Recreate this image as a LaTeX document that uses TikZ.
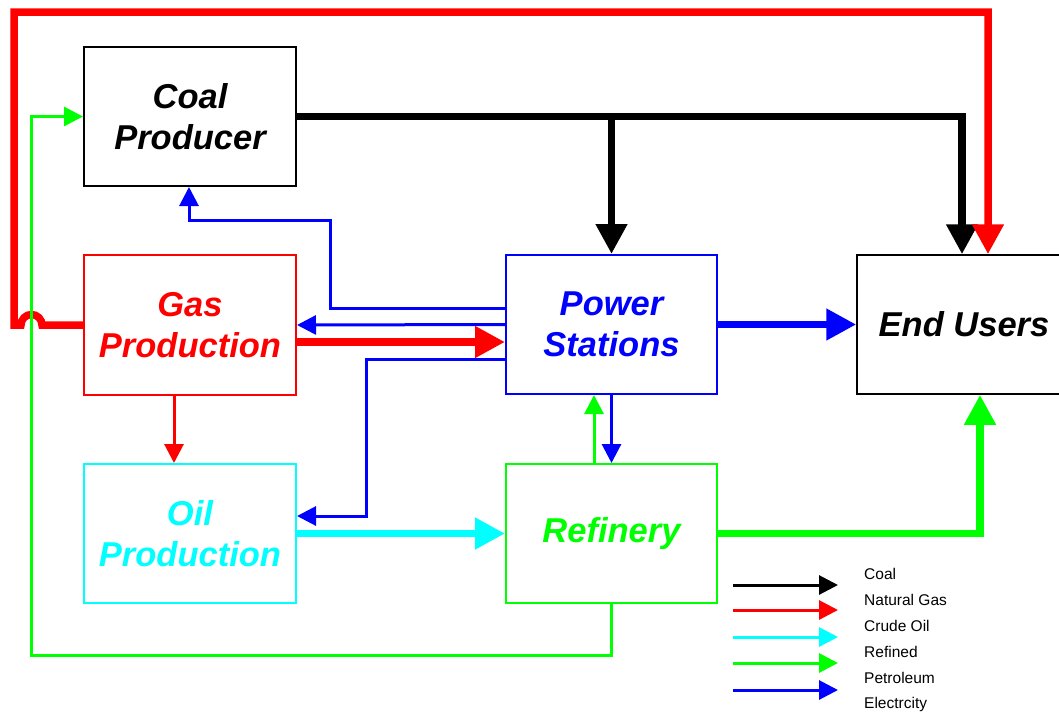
\documentclass[tikz,border=0pt]{standalone}
\usepackage{fontspec}
\setmainfont{Liberation Sans}
\usetikzlibrary{arrows.meta}
\definecolor{cRed}{RGB}{255,0,0}
\definecolor{cCyan}{RGB}{0,255,255}
\definecolor{cGreen}{RGB}{0,255,0}
\definecolor{cBlue}{RGB}{0,0,255}
\definecolor{cBlack}{RGB}{0,0,0}
\begin{document}
\begin{tikzpicture}[x=1pt,y=-1pt,
  box/.style={draw, rectangle, line width=2pt, minimum width=212pt, minimum height=139pt,
    inner sep=0pt, align=center, font=\fontsize{34.5}{41}\selectfont\bfseries\itshape},
  thickarr/.style={line width=7.5pt, -{Triangle[length=30pt,width=30pt]}},
  thinarr/.style={line width=3pt, -{Triangle[length=19pt,width=19pt]}},
  leg/.style={anchor=west, font=\fontsize{15.5}{18}\selectfont, inner sep=0pt}]
\useasboundingbox (0,0) rectangle (1059,713);

% boxes
\node[box, draw=cBlack, text=cBlack] (coal) at (190,116.5) {Coal\\Producer};
\node[box, draw=cRed, text=cRed, minimum height=140pt] (gas) at (190,325) {Gas\\Production};
\node[box, draw=cCyan, text=cCyan] (oil) at (190,533.5) {Oil\\Production};
\node[box, draw=cBlue, text=cBlue, minimum width=211pt] (power) at (611.5,324.5) {Power\\Stations};
\node[box, draw=cGreen, text=cGreen, minimum width=211pt] (ref) at (611.5,533.5) {Refinery};
\node[box, draw=cBlack, text=cBlack, line width=1.5pt, minimum width=214pt] (users) at (964,324.5) {End Users};

% coal (black)
\draw[thickarr, cBlack] (coal.east) -- (962,116.5) -- (users.north -| 962,0);
\coordinate (bj) at (power.north |- coal.east);
\draw[thickarr, cBlack] (bj) -- (power.north);

% natural gas (red)
\draw[thickarr, cRed] (gas.west) -- (42,325) arc[start angle=0, end angle=180, radius=10.5pt]
  -- (14,325) -- (14,12) -- (988,12) -- (users.north -| 988,0);
\draw[thickarr, cRed] (gas.east |- 0,342) -- (power.west |- 0,342);
\draw[thinarr, cRed] (gas.south -| 174,0) -- (oil.north -| 174,0);

% crude oil (cyan)
\draw[thickarr, cCyan] (oil.east) -- (ref.west);

% refined petroleum (green)
\draw[thinarr, cGreen] (ref.south) -- (611.5,655) -- (31,655) -- (31,116.5) -- (coal.west);
\draw[thinarr, cGreen] (ref.north -| 594,0) -- (power.south -| 594,0);
\draw[thickarr, cGreen] (ref.east) -- (980,533.5) -- (users.south -| 980,0);

% electricity (blue)
\draw[thinarr, cBlue] (power.west |- 0,308) -- (330,308) -- (330,220) -- (189,220) -- (coal.south -| 189,0);
\draw[thinarr, cBlue] (power.west) -- (gas.east);
\draw[thinarr, cBlue] (power.west |- 0,359) -- (366,359) -- (366,516) -- (oil.east |- 0,516);
\draw[thinarr, cBlue] (power.south) -- (ref.north);
\draw[thickarr, cBlue] (power.east) -- (users.west);

% legend
\foreach \c/\y [count=\i] in {cBlack/585,cRed/610,cCyan/637,cGreen/663,cBlue/690} {
  \coordinate (ls\i) at (733,\y);
  \coordinate (le\i) at (838,\y);
  \draw[thinarr, \c] (ls\i) -- (le\i);
}
\node[leg] (t1) at (864,574) {Coal};
\node[leg] (t2) at (864,600) {Natural Gas};
\node[leg] (t3) at (864,626) {Crude Oil};
\node[leg] (t4) at (864,652) {Refined};
\node[leg] (t5) at (864,678) {Petroleum};
\node[leg] (t6) at (864,704) {Electrcity};
\end{tikzpicture}
\end{document}
